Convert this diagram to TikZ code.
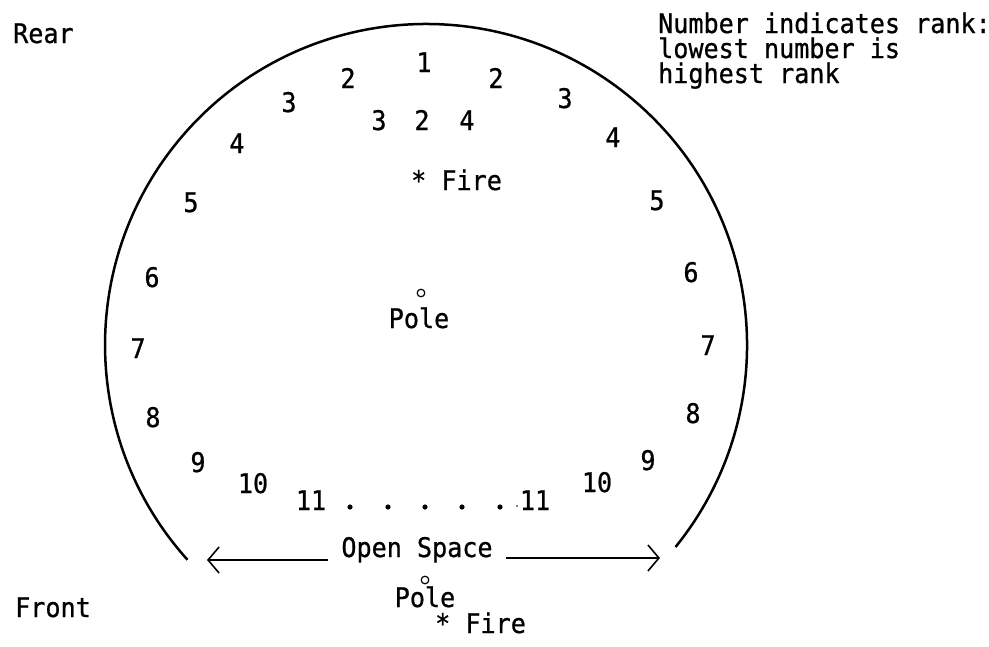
\documentclass[tikz,border=0pt]{standalone}
\usepackage{fontspec}
\newfontfamily\tw[FakeStretch=0.93,FakeBold=0.8]{DejaVu Sans Mono}
\usetikzlibrary{arrows.meta}
\begin{document}
\begin{tikzpicture}[x=1pt,y=-1pt,
  every node/.style={font=\fontsize{27}{27}\selectfont\tw, inner sep=0pt, text=black},
  num/.style={anchor=base},
  lbl/.style={anchor=base west},
  rim/.style={line width=2.5pt},
  arr/.style={line width=1.5pt, -{Straight Barb[length=11pt,width=26pt,line width=1.6pt]}},
  dotmark/.style={fill=black},
  polemark/.style={line width=1.2pt}]
\useasboundingbox (0,0) rectangle (989,646);
% enclosure
\draw[rim] (675.5,547) arc[start angle=-39, end angle=222, radius=321pt];
% corner labels
\node[lbl] (rear) at (13,43) {Rear};
\node[lbl] (front) at (15,617) {Front};
\node[lbl] (n1) at (658,33) {Number indicates rank:};
\node[lbl] (n2) at (658,58) {lowest number is};
\node[lbl] (n3) at (658,83) {highest rank};
% ranks
\node[num] (r1) at (424,72) {1};
\node[num] (l2) at (348,88) {2};
\node[num] (rr2) at (496,88) {2};
\node[num] (i3) at (379,130) {3};
\node[num] (i2) at (422,130) {2};
\node[num] (i4) at (467,130) {4};
\node[num] (l3) at (289,112) {3};
\node[num] (l4) at (237,153) {4};
\node[num] (l5) at (191,212) {5};
\node[num] (rr3) at (565,108) {3};
\node[num] (rr4) at (613,147) {4};
\node[num] (rr5) at (657,210) {5};
\node[num] (l6) at (152,287) {6};
\node[num] (l7) at (138,358) {7};
\node[num] (l8) at (153,427) {8};
\node[num] (l9) at (198,472) {9};
\node[num] (l10) at (253,493) {10};
\node[num] (l11) at (311,510) {11};
\node[num] (rr6) at (691,282) {6};
\node[num] (rr7) at (708,355) {7};
\node[num] (rr8) at (693,423) {8};
\node[num] (rr9) at (648,470) {9};
\node[num] (rr10) at (597,492) {10};
\node[num] (rr11) at (535,510) {11};
% dots between the elevens
\foreach \dx in {350,388,425,462,500} \fill[dotmark] (\dx,507) circle[radius=2.6pt];
\fill[dotmark] (517,506) circle[radius=0.9pt];
% fire and pole inside
\node[lbl] (fire1) at (411,190) {* Fire};
\draw[polemark] (421,293) circle[radius=3.8pt];
\node[num] (pole1) at (419,328) {Pole};
% open space
\node[num, inner xsep=13pt] (os) at (417,557) {Open Space};
\coordinate (la) at (207,560);
\coordinate (ra) at (660,558);
\draw[arr] (os.base west) ++(0,3) -- (la);
\draw[arr] (os.base east) ++(0,1) -- (ra);
% pole and fire outside
\draw[polemark] (425,580) circle[radius=3.8pt];
\node[num] (pole2) at (425,607) {Pole};
\node[lbl] (fire2) at (435,633) {* Fire};
\end{tikzpicture}
\end{document}
